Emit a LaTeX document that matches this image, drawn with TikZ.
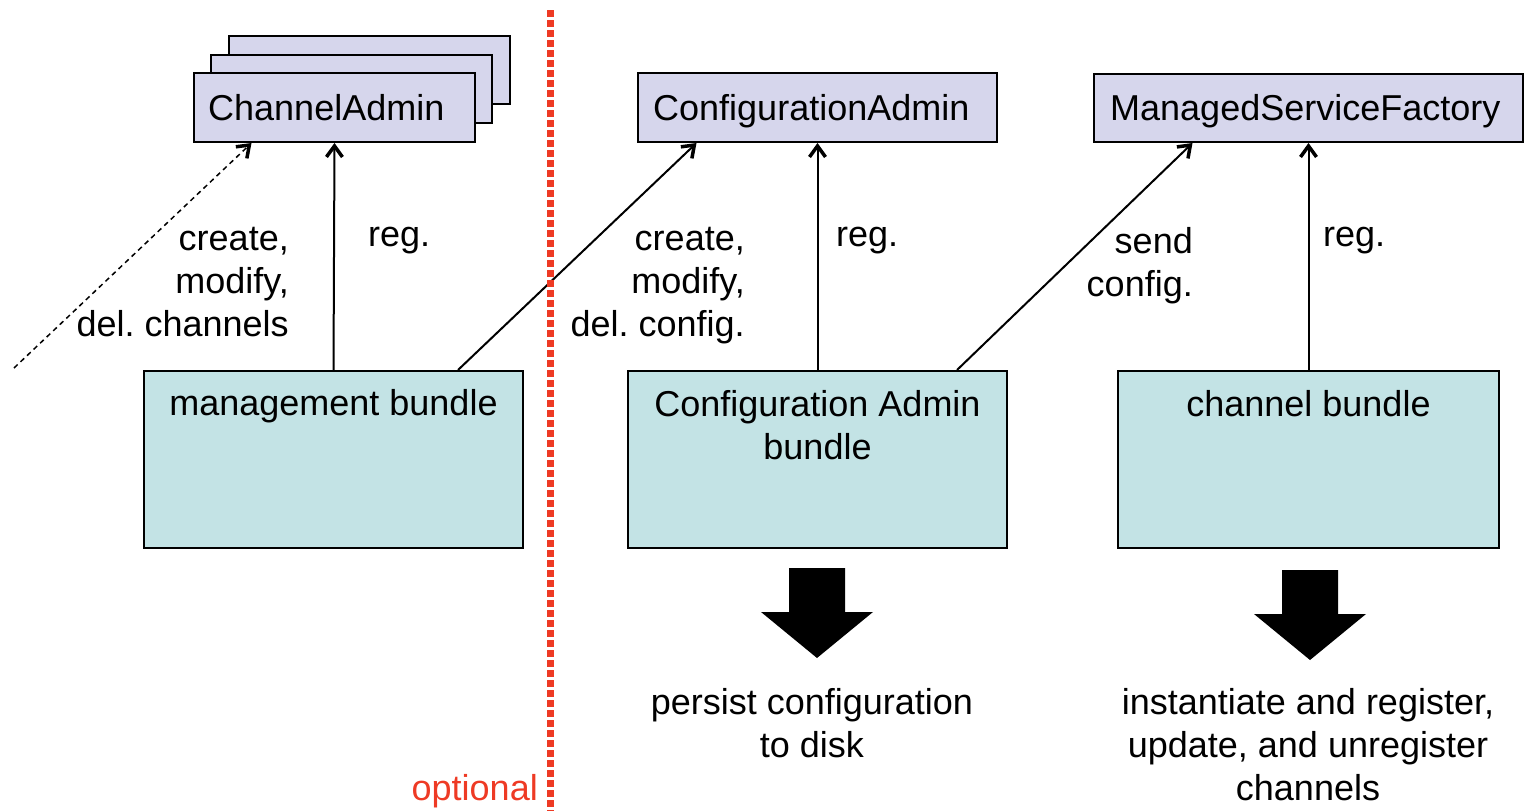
\documentclass[tikz,border=0pt]{standalone}
\usepackage{fontspec}
\setmainfont{Liberation Sans}
\usetikzlibrary{arrows.meta,calc}
\frenchspacing
\definecolor{ifacefill}{HTML}{D6D6EC}
\definecolor{bundlefill}{HTML}{C3E3E5}
\definecolor{optred}{HTML}{EE3A24}
\tikzset{
  iface/.style={draw=black, line width=2pt, fill=ifacefill, inner sep=0pt, anchor=north west},
  bundle/.style={draw=black, line width=2pt, fill=bundlefill, inner sep=0pt, anchor=north west},
  txt/.style={inner sep=0pt, font=\fontsize{36}{43}\selectfont},
  uses/.style={line width=2pt, -{Straight Barb[length=11pt,width=16pt,line width=3.5pt]}},
  blockarrow/.style={fill=black},
}
\begin{document}
\begin{tikzpicture}[x=1pt,y=-1pt]
\useasboundingbox (0,0) rectangle (1524,811);

% stacked ChannelAdmin interfaces
\node[iface, minimum width=281, minimum height=68] (chback) at (228,35) {};
\node[iface, minimum width=281, minimum height=68] (chmid) at (210,54) {};
\node[iface, minimum width=281, minimum height=69] (chadm) at (193,72) {};
\node[txt, anchor=base west] at ([xshift=15pt,yshift=-12.5pt]chadm.west) {ChannelAdmin};

\node[iface, minimum width=359, minimum height=69] (cfgadm) at (637,72) {};
\node[txt, anchor=base west] at ([xshift=16pt,yshift=-12.5pt]cfgadm.west) {ConfigurationAdmin};

\node[iface, minimum width=429, minimum height=68] (msf) at (1093,73) {};
\node[txt, anchor=base west] at ([xshift=17pt,yshift=-12.5pt]msf.west) {ManagedServiceFactory};

% bundles
\node[bundle, minimum width=379, minimum height=177] (mgmt) at (143,370) {};
\node[txt, anchor=north] at ([yshift=-19pt]mgmt.north) {management bundle};

\node[bundle, minimum width=379, minimum height=177] (cab) at (627,370) {};
\node[txt, anchor=north, align=center] at ([yshift=-20pt]cab.north) {Configuration Admin\\bundle};

\node[bundle, minimum width=381, minimum height=177] (chb) at (1117,370) {};
\node[txt, anchor=north] at ([yshift=-20pt]chb.north) {channel bundle};

% service usage and registration
\coordinate (ext) at (14,368);
\draw[uses, dash pattern=on 5pt off 4pt, line width=1.5pt] (ext) -- ([xshift=-83pt]chadm.south);
\draw[uses] (mgmt.north) -- (chadm.south);
\draw[uses] ([xshift=-66pt]mgmt.north east) -- ([xshift=-121pt]cfgadm.south);
\draw[uses] (cab.north) -- (cfgadm.south);
\draw[uses] ([xshift=-51pt]cab.north east) -- ([xshift=-116pt]msf.south);
\draw[uses] (chb.north) -- (msf.south);

% connector labels
\node[txt, anchor=north east, align=right] at (289,227) {create,\\modify,\\del. channels};
\node[txt, anchor=north west] at (368,227) {reg.};
\node[txt, anchor=north east, align=right] at (745,227) {create,\\modify,\\del. config.};
\node[txt, anchor=north west] at (836,227) {reg.};
\node[txt, anchor=north east, align=right] at (1193,227) {send\\config.};
\node[txt, anchor=north west] at (1323,227) {reg.};

% optional boundary
\draw[optred, line width=7pt, dash pattern=on 6.5pt off 3.5pt] (550,10) -- (550,811);
\node[txt, anchor=base east, text=optred] (opt) at (538,800) {optional};

% outcome arrows
\coordinate (pa) at (817,568);
\coordinate (ca) at (1310,570);
\foreach \c in {pa,ca}{
  \fill[blockarrow] ($(\c)+(-28,0)$) -- ($(\c)+(28,0)$) -- ($(\c)+(28,44)$) -- ($(\c)+(56,44)$)
    -- ($(\c)+(0,90)$) -- ($(\c)+(-56,44)$) -- ($(\c)+(-28,44)$) -- cycle;
}
\node[txt, anchor=north, align=center] (persist) at (812,688) {persist configuration\\to disk};
\node[txt, anchor=north, align=center] (inst) at (1308,688) {instantiate and register,\\update, and unregister\\channels};
\end{tikzpicture}
\end{document}
